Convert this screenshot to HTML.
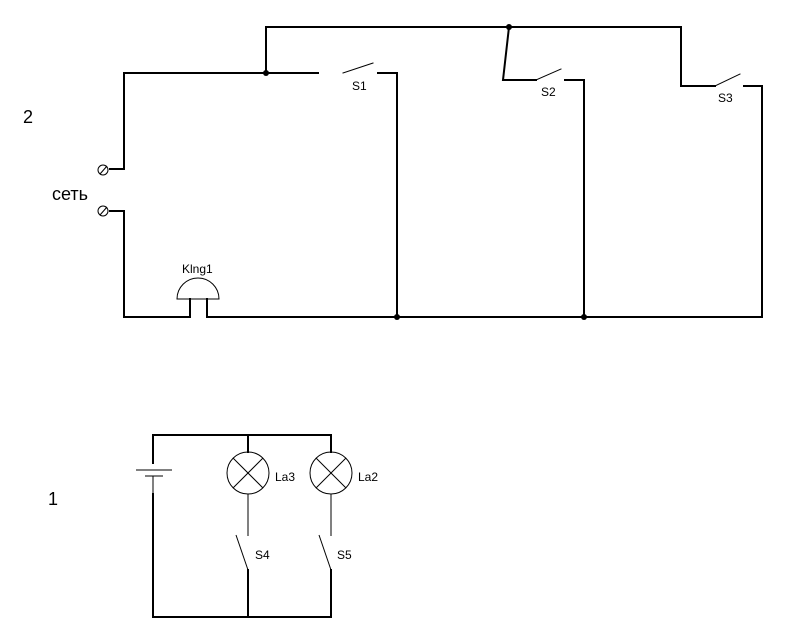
<!DOCTYPE html>
<html><head><meta charset="utf-8"><style>
html,body{margin:0;padding:0;background:#fff;}
svg{display:block;}
text{font-family:"Liberation Sans",Arial,sans-serif;fill:#000;}
</style></head><body>
<svg width="785" height="641" viewBox="0 0 785 641" xmlns="http://www.w3.org/2000/svg">
<g stroke="#000" stroke-width="2" fill="none" stroke-linecap="square">
<!-- top loop -->
<polyline points="266,73 266,27 681,27 681,86 715,86"/>
<polyline points="124,169 124,73 318,73"/>
<line x1="343" y1="73" x2="373" y2="63" stroke-width="1"/>
<polyline points="378,73 397,73 397,317"/>
<polyline points="509,27 503,80 536,80"/>
<line x1="536" y1="80" x2="561" y2="69" stroke-width="1"/>
<polyline points="565,80 584,80 584,317"/>
<line x1="715" y1="86" x2="740" y2="74" stroke-width="1"/>
<polyline points="744,86 762,86 762,317 207,317 207,299"/>
<polyline points="124,211 124,317 190,317 190,299"/>
<line x1="110" y1="169" x2="124" y2="169"/>
<line x1="110" y1="211" x2="124" y2="211"/>
</g>
<g stroke="#000" stroke-width="1" fill="none">
<path d="M177,299 A21,21 0 0 1 219,299 Z"/>
<circle cx="103" cy="170" r="5"/><line x1="100" y1="174" x2="107" y2="166"/>
<circle cx="103" cy="211" r="5"/><line x1="100" y1="215" x2="107" y2="207"/>
</g>
<g fill="#000">
<circle cx="266" cy="73" r="3"/><circle cx="509" cy="27" r="3"/>
<circle cx="397" cy="317" r="3"/><circle cx="584" cy="317" r="3"/>
</g>
<text x="352" y="90" font-size="12">S1</text>
<text x="541" y="96" font-size="12">S2</text>
<text x="718" y="102" font-size="12">S3</text>
<text x="182" y="273" font-size="12">Klng1</text>
<text x="52" y="200" font-size="18">сеть</text>
<text x="23" y="123" font-size="18">2</text>
<text x="48" y="505" font-size="18">1</text>
<!-- bottom circuit -->
<g stroke="#000" stroke-width="2" fill="none" stroke-linecap="square">
<polyline points="153,463 153,435 331,435 331,452"/>
<polyline points="153,494 153,617 331,617 331,570"/>
<polyline points="248,435 248,452"/>
<polyline points="248,617 248,570"/>
</g>
<g stroke="#000" stroke-width="1" fill="none">
<line x1="136" y1="470" x2="172" y2="470"/>
<line x1="145" y1="476" x2="163" y2="476"/>
<line x1="153" y1="476" x2="153" y2="494"/>
<circle cx="248" cy="473" r="21"/>
<line x1="233" y1="458" x2="263" y2="488"/><line x1="263" y1="458" x2="233" y2="488"/>
<circle cx="331" cy="473" r="21"/>
<line x1="316" y1="458" x2="346" y2="488"/><line x1="346" y1="458" x2="316" y2="488"/>
<line x1="248" y1="494" x2="248" y2="536"/>
<line x1="331" y1="494" x2="331" y2="536"/>
<line x1="236" y1="535" x2="248" y2="570"/>
<line x1="319" y1="535" x2="331" y2="570"/>
</g>
<text x="275" y="481" font-size="12">La3</text>
<text x="358" y="481" font-size="12">La2</text>
<text x="255" y="559" font-size="12">S4</text>
<text x="337" y="559" font-size="12">S5</text>
</svg>
</body></html>
